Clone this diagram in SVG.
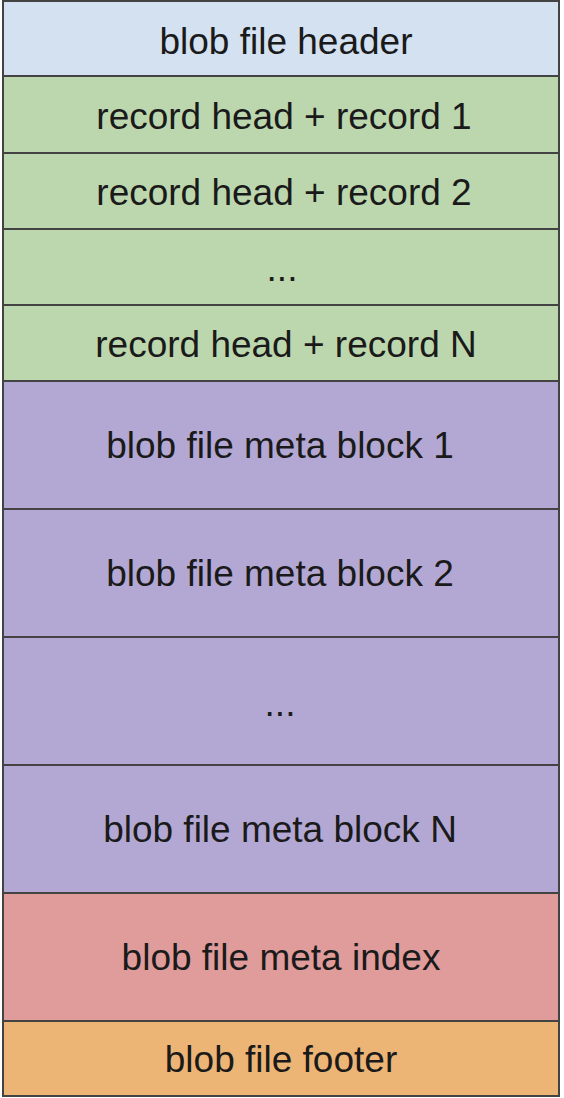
<svg xmlns="http://www.w3.org/2000/svg" width="564" height="1098" viewBox="0 0 564 1098">
<style>
rect{stroke:#434343;stroke-width:2}
text{font-family:"Liberation Sans",Arial,sans-serif;font-size:37px;fill:#1a1a1a;text-anchor:middle}
.hd{fill:#d3e1f1}.rc{fill:#bcd7ae}.mb{fill:#b3a8d3}.ix{fill:#e09c9b}.ft{fill:#edb575}
</style>
<rect x="0" y="0" width="564" height="1098" fill="#ffffff" style="stroke:none"/>
<g id="header"><rect class="hd" x="3" y="1" width="556" height="75"/><text x="286" y="54">blob file header</text></g>
<g id="record1"><rect class="rc" x="3" y="76" width="556" height="77"/><text x="284" y="129">record head + record 1</text></g>
<g id="record2"><rect class="rc" x="3" y="153" width="556" height="76"/><text x="284" y="205">record head + record 2</text></g>
<g id="record-dots"><rect class="rc" x="3" y="229" width="556" height="76"/><text x="282" y="281">...</text></g>
<g id="recordN"><rect class="rc" x="3" y="305" width="556" height="76"/><text x="286" y="357">record head + record N</text></g>
<g id="meta1"><rect class="mb" x="3" y="381" width="556" height="128"/><text x="280" y="458">blob file meta block 1</text></g>
<g id="meta2"><rect class="mb" x="3" y="509" width="556" height="128"/><text x="280" y="586">blob file meta block 2</text></g>
<g id="meta-dots"><rect class="mb" x="3" y="637" width="556" height="128"/><text x="280" y="716">...</text></g>
<g id="metaN"><rect class="mb" x="3" y="765" width="556" height="128"/><text x="280" y="842">blob file meta block N</text></g>
<g id="meta-index"><rect class="ix" x="3" y="893" width="556" height="128"/><text x="281" y="970">blob file meta index</text></g>
<g id="footer"><rect class="ft" x="3" y="1021" width="556" height="75"/><text x="281" y="1072">blob file footer</text></g>
<g id="connectors"></g>
</svg>
